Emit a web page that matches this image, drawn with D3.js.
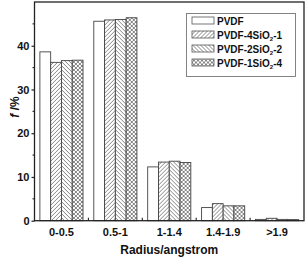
<!DOCTYPE html>
<html>
<head>
<meta charset="utf-8">
<script src="https://cdn.jsdelivr.net/npm/d3@7"></script>
<style>
  body { margin: 0; background: #fff; }
  svg { display: block; font-family: Arial, "Liberation Sans", sans-serif; }
</style>
</head>
<body>
<div id="chart"></div>
<script>
// data
const categories = ["0-0.5", "0.5-1", "1-1.4", "1.4-1.9", ">1.9"];
const seriesNames = ["PVDF", "PVDF-4SiO2-1", "PVDF-2SiO2-2", "PVDF-1SiO2-4"];
const pvdf = [38.6, 45.6, 12.3, 3.0, 0.3];
const pvdf4SiO2_1 = [36.2, 45.9, 13.4, 3.9, 0.55];
const pvdf2SiO2_2 = [36.6, 46.0, 13.6, 3.4, 0.3];
const pvdf1SiO2_4 = [36.7, 46.4, 13.3, 3.4, 0.25];
const yTicks = [0, 10, 20, 30, 40];

const seriesValues = [pvdf, pvdf4SiO2_1, pvdf2SiO2_2, pvdf1SiO2_4];
const fills = ["#fff", "url(#hatch-fwd)", "url(#hatch-back)", "url(#hatch-cross)"];

const width = 307, height = 259;
const margin = { top: 2, right: 3, bottom: 38.3, left: 34.5 };

const svg = d3.select("#chart").append("svg")
  .attr("width", width)
  .attr("height", height);

// hatch patterns
const defs = svg.append("defs");
function addPattern(id, d) {
  const p = defs.append("pattern")
    .attr("id", id)
    .attr("patternUnits", "userSpaceOnUse")
    .attr("width", 4)
    .attr("height", 4);
  p.append("rect").attr("width", 4).attr("height", 4).attr("fill", "#fff");
  p.append("path")
    .attr("d", d)
    .attr("stroke", "#666")
    .attr("stroke-width", 0.8)
    .attr("fill", "none");
}
const fwd = "M-1,1 l2,-2 M0,4 l4,-4 M3,5 l2,-2";
const back = "M-1,3 l2,2 M0,0 l4,4 M3,-1 l2,2";
addPattern("hatch-fwd", fwd);
addPattern("hatch-back", back);
addPattern("hatch-cross", fwd + " " + back);

const x = d3.scaleBand()
  .domain(categories)
  .range([margin.left, width - margin.right])
  .paddingInner(0.2)
  .paddingOuter(0.1);

const xInner = d3.scaleBand()
  .domain(d3.range(seriesNames.length))
  .range([0, x.bandwidth()]);

const y = d3.scaleLinear()
  .domain([0, 50])
  .range([height - margin.bottom, margin.top]);

// bars
const groups = svg.append("g")
  .selectAll("g")
  .data(categories)
  .join("g")
  .attr("transform", d => `translate(${x(d)},0)`);

groups.selectAll("rect")
  .data((d, i) => seriesValues.map((s, j) => ({ series: j, value: s[i] })))
  .join("rect")
  .attr("x", d => xInner(d.series))
  .attr("y", d => y(d.value))
  .attr("width", xInner.bandwidth())
  .attr("height", d => y(0) - y(d.value))
  .attr("fill", d => fills[d.series])
  .attr("stroke", "#444")
  .attr("stroke-width", 0.9);

// frame
svg.append("rect")
  .attr("x", margin.left)
  .attr("y", margin.top)
  .attr("width", width - margin.left - margin.right)
  .attr("height", y(0) - margin.top)
  .attr("fill", "none")
  .attr("stroke", "#222")
  .attr("stroke-width", 1.3);

// y axis
const yAxis = svg.append("g")
  .attr("transform", `translate(${margin.left},0)`)
  .call(d3.axisLeft(y).tickValues(yTicks).tickSize(3).tickPadding(2));
yAxis.select(".domain").remove();
yAxis.selectAll(".tick line").attr("stroke", "#222").attr("stroke-width", 1.2);
yAxis.selectAll(".tick text")
  .attr("font-size", 11)
  .attr("font-weight", "bold")
  .attr("fill", "#111");

// minor y ticks
svg.append("g")
  .selectAll("line")
  .data(d3.range(5, 50, 10))
  .join("line")
  .attr("x1", margin.left - 2)
  .attr("x2", margin.left)
  .attr("y1", d => y(d))
  .attr("y2", d => y(d))
  .attr("stroke", "#222")
  .attr("stroke-width", 1.1);

// x axis labels
const xAxis = svg.append("g")
  .attr("transform", `translate(0,${y(0)})`)
  .call(d3.axisBottom(x).tickSize(0).tickPadding(8));
xAxis.select(".domain").remove();
xAxis.selectAll(".tick text")
  .attr("font-size", 11)
  .attr("font-weight", "bold")
  .attr("fill", "#111");

// small inward ticks between categories
svg.append("g")
  .selectAll("line")
  .data(categories.slice(1))
  .join("line")
  .attr("x1", d => x(d) - x.step() * x.paddingInner() / 2)
  .attr("x2", d => x(d) - x.step() * x.paddingInner() / 2)
  .attr("y1", y(0))
  .attr("y2", y(0) - 3)
  .attr("stroke", "#222")
  .attr("stroke-width", 1.1);

// axis titles
svg.append("text")
  .attr("x", (margin.left + width - margin.right) / 2)
  .attr("y", 254)
  .attr("text-anchor", "middle")
  .attr("font-size", 12)
  .attr("font-weight", "bold")
  .attr("fill", "#111")
  .text("Radius/angstrom");

const yTitle = svg.append("text")
  .attr("transform", "translate(19,107) rotate(-90)")
  .attr("text-anchor", "middle")
  .attr("font-size", 12)
  .attr("font-weight", "bold")
  .attr("fill", "#111");
yTitle.append("tspan").attr("font-style", "italic").text("f ");
yTitle.append("tspan").text("/%");

// legend
const legend = svg.append("g");
legend.append("rect")
  .attr("x", 186.5)
  .attr("y", 13.5)
  .attr("width", 109)
  .attr("height", 63)
  .attr("fill", "#fff")
  .attr("stroke", "#777")
  .attr("stroke-width", 0.9);

const items = legend.selectAll("g.item")
  .data(seriesNames)
  .join("g")
  .attr("class", "item")
  .attr("transform", (d, i) => `translate(192,${20.5 + i * 14})`);

items.append("rect")
  .attr("x", 0)
  .attr("y", -3.5)
  .attr("width", 22)
  .attr("height", 7)
  .attr("fill", (d, i) => fills[i])
  .attr("stroke", "#555")
  .attr("stroke-width", 0.8);

items.each(function (d) {
  const t = d3.select(this).append("text")
    .attr("x", 25)
    .attr("y", 4)
    .attr("font-size", 10)
    .attr("font-weight", "bold")
    .attr("fill", "#111");
  const m = d.match(/^(.*SiO)2(.*)$/);
  if (m) {
    t.append("tspan").text(m[1]);
    t.append("tspan").attr("font-size", 6).attr("dy", 2.5).text("2");
    t.append("tspan").attr("dy", -2.5).text(m[2]);
  } else {
    t.text(d);
  }
});
</script>
</body>
</html>
